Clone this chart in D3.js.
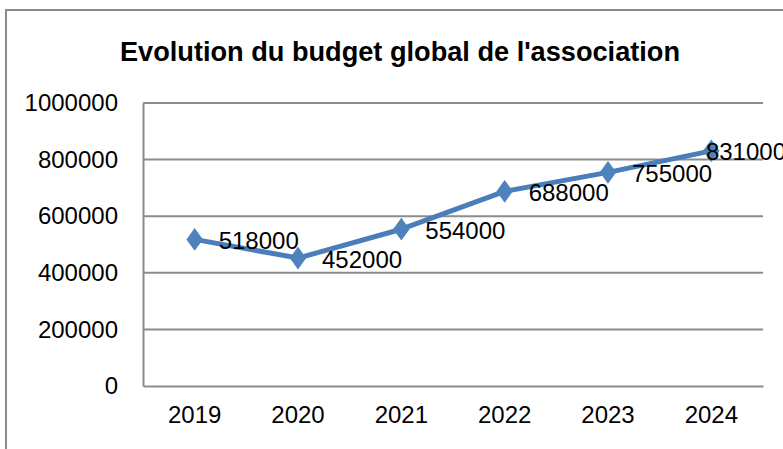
<!DOCTYPE html>
<html>
<head>
<meta charset="utf-8">
<script src="https://cdn.jsdelivr.net/npm/d3@7"></script>
<style>
  body { margin: 0; background: #fff; }
  text { font-family: "Liberation Sans", Arial, sans-serif; fill: #000; }
</style>
</head>
<body>
<div id="chart"></div>
<script>
// Données du graphique
const years = ["2019", "2020", "2021", "2022", "2023", "2024"];
const budget = [518000, 452000, 554000, 688000, 755000, 831000];
const yTicks = [0, 200000, 400000, 600000, 800000, 1000000];
const title = "Evolution du budget global de l'association";

const width = 783, height = 449;
const margin = { left: 143, right: 20, top: 103, bottom: 63 };
const frameRight = 786;

const svg = d3.select("#chart").append("svg")
    .attr("width", width)
    .attr("height", height);

// cadre du graphique (dépasse à droite et en bas)
svg.append("rect")
    .attr("x", 6)
    .attr("y", 10)
    .attr("width", 800)
    .attr("height", 460)
    .attr("fill", "#fff")
    .attr("stroke", "#8c8c8c")
    .attr("stroke-width", 2);

svg.append("text")
    .attr("x", 400)
    .attr("y", 61)
    .attr("text-anchor", "middle")
    .attr("font-size", "28px")
    .attr("font-weight", "bold")
    .attr("textLength", 560)
    .attr("lengthAdjust", "spacingAndGlyphs")
    .text(title);

const x = d3.scaleBand()
    .domain(years)
    .range([margin.left, width - margin.right]);

const y = d3.scaleLinear()
    .domain([0, 1000000])
    .range([height - margin.bottom, margin.top]);

// grille horizontale
svg.append("g")
    .selectAll("line")
    .data(yTicks.filter(d => d > 0))
    .enter().append("line")
    .attr("x1", margin.left)
    .attr("x2", width - margin.right)
    .attr("y1", d => y(d))
    .attr("y2", d => y(d))
    .attr("stroke", "#8c8c8c")
    .attr("stroke-width", 2);

// axes
const yAxis = svg.append("g")
    .attr("transform", `translate(${margin.left},0)`)
    .call(d3.axisLeft(y).tickValues(yTicks).tickSize(0).tickPadding(25).tickFormat(d3.format("d")));
yAxis.select(".domain").attr("stroke", "#8c8c8c").attr("stroke-width", 2);
yAxis.selectAll("text").attr("font-size", "24px").attr("font-family", "Liberation Sans, Arial, sans-serif").attr("fill", "#000");

const xAxis = svg.append("g")
    .attr("transform", `translate(0,${height - margin.bottom})`)
    .call(d3.axisBottom(x).tickSize(0).tickPadding(20));
xAxis.select(".domain").attr("stroke", "#8c8c8c").attr("stroke-width", 2);
xAxis.selectAll("text").attr("font-size", "24px").attr("font-family", "Liberation Sans, Arial, sans-serif").attr("fill", "#000");

const cx = d => x(d) + x.bandwidth() / 2;

const line = d3.line()
    .x((d, i) => cx(years[i]))
    .y(d => y(d));

svg.append("path")
    .datum(budget)
    .attr("fill", "none")
    .attr("stroke", "#4a7ebb")
    .attr("stroke-width", 5)
    .attr("stroke-linejoin", "round")
    .attr("d", line);

svg.append("g")
    .selectAll("path")
    .data(budget)
    .enter().append("path")
    .attr("d", d3.symbol().type(d3.symbolDiamond).size(150))
    .attr("transform", (d, i) => `translate(${cx(years[i])},${y(d)}) scale(1.25,1)`)
    .attr("fill", "#4f81bd");

// étiquettes de données
svg.append("g")
    .selectAll("text")
    .data(budget)
    .enter().append("text")
    .attr("font-size", "24px")
    .attr("dominant-baseline", "central")
    .attr("y", d => y(d) + 1)
    .text(d => d)
    .attr("x", function (d, i) {
        const w = this.getComputedTextLength();
        return Math.min(cx(years[i]) + 24, frameRight - w);
    });
</script>
</body>
</html>
